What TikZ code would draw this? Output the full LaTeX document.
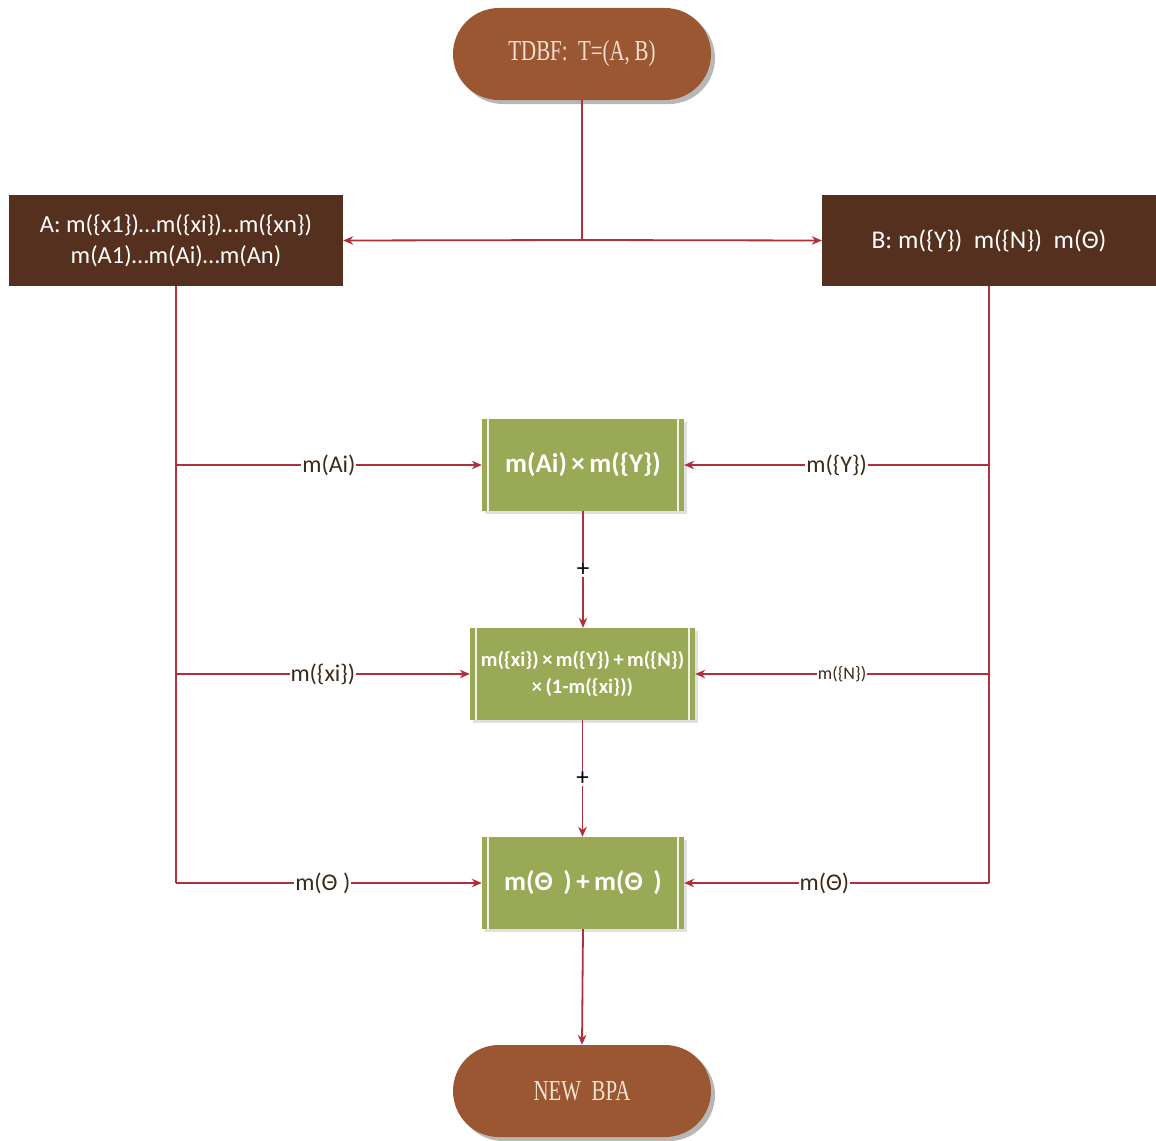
\documentclass[tikz,border=0pt]{standalone}
\usepackage{fontspec}
\setmainfont{Carlito}
\newfontfamily\termfont[FakeStretch=0.72]{Liberation Serif}
\usetikzlibrary{arrows.meta,shadows}
\definecolor{termfill}{HTML}{9B5632}
\definecolor{termtext}{HTML}{F3E1D2}
\definecolor{darkfill}{HTML}{56301E}
\definecolor{greenfill}{HTML}{9AA955}
\definecolor{linecol}{HTML}{B0303A}
\definecolor{lbltext}{HTML}{3D2A1A}
\begin{document}
\begin{tikzpicture}[x=1pt,y=-1pt,
  termbox/.style={rectangle, rounded corners=46pt, fill=termfill, minimum width=258pt, minimum height=92pt,
    text=termtext, font=\termfont\fontsize{29}{30}\selectfont,
    drop shadow={shadow xshift=4pt, shadow yshift=-4pt, fill=black!40, opacity=0.7}},
  darkbox/.style={rectangle, fill=darkfill, minimum width=334pt, minimum height=91pt, text=white,
    font=\fontsize{24.5}{31}\selectfont, align=center, inner sep=2pt},
  greenbox/.style={rectangle, fill=greenfill, minimum height=92pt, text=white, align=center, inner sep=2pt,
    font=\bfseries\fontsize{27}{30}\selectfont,
    drop shadow={shadow xshift=3pt, shadow yshift=-3pt, fill=black!12, opacity=1},
    path picture={\draw[white!85!greenfill, line width=1.3pt]
      ([xshift=6pt]path picture bounding box.south west) -- ([xshift=6pt]path picture bounding box.north west)
      ([xshift=-6pt]path picture bounding box.south east) -- ([xshift=-6pt]path picture bounding box.north east);}},
  conn/.style={draw=linecol, line width=1.8pt},
  arr/.style={conn, -{Stealth[length=10pt,width=8.5pt]}},
  lbl/.style={fill=white, inner sep=1pt, text=lbltext, font=\fontsize{24}{28}\selectfont},
  plus/.style={fill=white, inner sep=1pt, text=black, font=\fontsize{25}{26}\selectfont}
]
\useasboundingbox (0,0) rectangle (1156,1140);

\node[termbox] (top) at (582,54) {TDBF:\ \ T=(A,\,B)};
\node[darkbox] (A) at (176,240.5) {A: m(\{x1\})…m(\{xi\})…m(\{xn\})\\m(A1)…m(Ai)…m(An)};
\node[darkbox, font=\fontsize{25.5}{31}\selectfont] (B) at (989,240.5) {B: m(\{Y\})\ \ m(\{N\})\ \ m(Θ)};

\node[greenbox, minimum width=202pt] (g1) at (583,465) {m(Ai)\,×\,m(\{Y\})};
\node[greenbox, minimum width=225pt, font=\bfseries\fontsize{20.5}{27}\selectfont] (g2) at (582.5,674) {m(\{xi\})\,×\,m(\{Y\})\,+\,m(\{N\})\\×\,(1-m(\{xi\}))};
\node[greenbox, minimum width=202pt] (g3) at (583,883) {m(Θ\ \,)\,+\,m(Θ\ \,)};

\node[termbox] (bot) at (582,1091) {NEW\ \ BPA};

\coordinate (J) at (582,240);
\draw[conn] (top.south) -- (J);
\draw[arr] (J) -- (A.east);
\draw[arr] (J) -- (B.west);

\coordinate (L1) at (176,465);
\coordinate (L2) at (176,674);
\coordinate (L3) at (176,883);
\coordinate (R1) at (989,465);
\coordinate (R2) at (989,674);
\coordinate (R3) at (989,883);

\draw[conn] (A.south) -- (L3);
\draw[conn] (B.south) -- (R3);

\draw[arr] (L1) -- node[lbl, pos=0.5]{m(Ai)} (g1.west);
\draw[arr] (L2) -- node[lbl, pos=0.5]{m(\{xi\})} (g2.west);
\draw[arr] (L3) -- node[lbl, pos=0.48]{m(Θ\ )} (g3.west);

\draw[arr] (R1) -- node[lbl, pos=0.5]{m(\{Y\})} (g1.east);
\draw[arr] (R2) -- node[lbl, pos=0.5, font=\fontsize{18}{22}\selectfont]{m(\{N\})} (g2.east);
\draw[arr] (R3) -- node[lbl, pos=0.54]{m(Θ)} (g3.east);

\draw[arr] (g1.south) -- node[plus]{+} (g1.south |- g2.north);
\draw[arr] (g2.south) -- node[plus]{+} (g2.south |- g3.north);
\draw[arr] (g3.south) -- (bot.north);
\end{tikzpicture}
\end{document}
